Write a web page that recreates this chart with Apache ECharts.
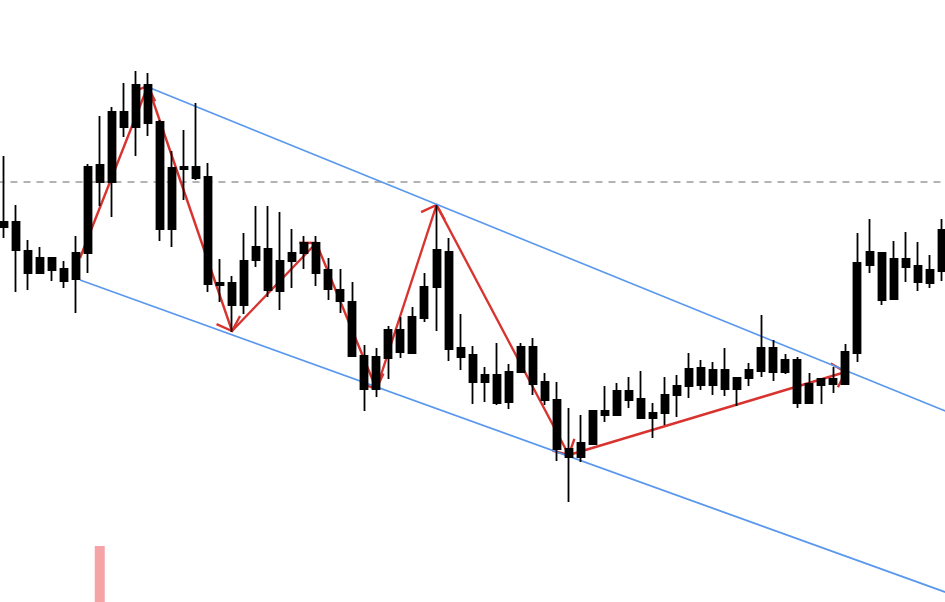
<!DOCTYPE html>
<html><head><meta charset="utf-8">
<script src="https://cdn.jsdelivr.net/npm/echarts@6/dist/echarts.min.js"></script>
<style>html,body{margin:0;padding:0;background:#fff}#c{width:945px;height:602px}</style>
</head><body><div id="c"></div>
<script>
const categories = Array.from({length: 79}, (_, i) => 'Bar ' + (i + 1));
const openP = [1.2778,1.2778,1.2749,1.2727,1.2742,1.2731,1.2721,1.2747,1.2818,1.2818,
1.2888,1.2873,1.2915,1.2878,1.2771,1.2833,1.2833,1.2823,1.2717,1.2717,
1.2695,1.2740,1.2751,1.2709,1.2739,1.2747,1.2757,1.2730,1.2710,1.2698,
1.2644,1.2611,1.2642,1.2670,1.2647,1.2682,1.2713,1.2748,1.2652,1.2645,
1.2618,1.2625,1.2598,1.2628,1.2653,1.2618,1.2600,1.2551,1.2543,1.2556,
1.2589,1.2585,1.2609,1.2601,1.2582,1.2587,1.2605,1.2614,1.2632,1.2615,
1.2630,1.2611,1.2622,1.2629,1.2652,1.2628,1.2640,1.2597,1.2615,1.2621,
1.2616,1.2647,1.2735,1.2747,1.2701,1.2741,1.2734,1.2717,1.2729];
const closeP = [1.2773,1.2750,1.2727,1.2742,1.2730,1.2719,1.2747,1.2833,1.2835,1.2888,
1.2873,1.2915,1.2877,1.2771,1.2832,1.2831,1.2822,1.2716,1.2715,1.2695,
1.2739,1.2753,1.2710,1.2739,1.2747,1.2757,1.2727,1.2711,1.2699,1.2644,
1.2611,1.2643,1.2670,1.2648,1.2683,1.2713,1.2750,1.2651,1.2643,1.2618,
1.2625,1.2597,1.2628,1.2653,1.2616,1.2600,1.2551,1.2543,1.2557,1.2589,
1.2585,1.2609,1.2600,1.2582,1.2587,1.2605,1.2614,1.2631,1.2615,1.2630,
1.2611,1.2622,1.2630,1.2652,1.2628,1.2640,1.2597,1.2616,1.2621,1.2616,
1.2648,1.2737,1.2748,1.2700,1.2741,1.2733,1.2718,1.2730,1.2770];
const lowP = [1.2762,1.2708,1.2710,1.2727,1.2719,1.2712,1.2687,1.2727,1.2794,1.2783,
1.2863,1.2844,1.2864,1.2759,1.2753,1.2800,1.2820,1.2708,1.2698,1.2668,
1.2686,1.2733,1.2703,1.2690,1.2712,1.2731,1.2714,1.2700,1.2687,1.2643,
1.2589,1.2603,1.2621,1.2642,1.2646,1.2678,1.2669,1.2639,1.2630,1.2596,
1.2598,1.2595,1.2591,1.2627,1.2605,1.2595,1.2539,1.2498,1.2538,1.2555,
1.2578,1.2585,1.2592,1.2582,1.2562,1.2575,1.2583,1.2602,1.2610,1.2605,
1.2604,1.2594,1.2614,1.2623,1.2619,1.2626,1.2592,1.2597,1.2596,1.2607,
1.2616,1.2638,1.2727,1.2695,1.2701,1.2718,1.2709,1.2712,1.2719];
const highP = [1.2844,1.2795,1.2760,1.2753,1.2743,1.2739,1.2764,1.2836,1.2884,1.2893,
1.2917,1.2929,1.2927,1.2880,1.2849,1.2870,1.2897,1.2837,1.2741,1.2724,
1.2767,1.2794,1.2794,1.2788,1.2771,1.2764,1.2764,1.2742,1.2731,1.2718,
1.2655,1.2652,1.2674,1.2683,1.2693,1.2727,1.2795,1.2762,1.2686,1.2654,
1.2633,1.2657,1.2636,1.2657,1.2662,1.2627,1.2618,1.2592,1.2585,1.2590,
1.2614,1.2617,1.2623,1.2629,1.2597,1.2623,1.2625,1.2647,1.2640,1.2638,
1.2652,1.2623,1.2637,1.2685,1.2660,1.2646,1.2643,1.2627,1.2622,1.2633,
1.2656,1.2767,1.2781,1.2747,1.2759,1.2768,1.2758,1.2745,1.2781];

// zigzag swing points (bar position, price)
const zigX = [6.36, 12, 19, 26, 31, 36, 47, 70];
const zigY = [1.2742, 1.2914, 1.2669, 1.2757, 1.2611, 1.2795, 1.2545, 1.2628];
// channel lines
const upperX = [12, 78.5];
const upperY = [1.2913, 1.2588];
const lowerX = [6.36, 78.5];
const lowerY = [1.2720, 1.2407];
// horizontal level
const levelY = 1.2818;
// single highlighted marker bar
const markerIndex = 8;
const markerValue = 9.3;

const RED = '#d8332f';
const BLUE = '#5a98ee';

const candleData = categories.map((_, i) => [openP[i], closeP[i], lowP[i], highP[i]]);
const segData = [];
for (let k = 0; k < zigX.length - 1; k++) {
  segData.push([zigX[k], zigY[k], zigX[k + 1], zigY[k + 1]]);
}
const markerData = categories.map((_, i) => i === markerIndex ? markerValue : null);

const chart = echarts.init(document.getElementById('c'));
chart.setOption({
  animation: false,
  backgroundColor: '#ffffff',
  grid: { left: -2.5, right: -2.7, top: 0, bottom: 0, containLabel: false, outerBoundsMode: 'none' },
  xAxis: [
    { type: 'category', data: categories, boundaryGap: true, show: false },
    { type: 'value', min: -0.5, max: 78.5, show: false }
  ],
  yAxis: [
    { type: 'value', min: 1.2398, max: 1.3000, show: false, scale: true },
    { type: 'value', min: 0, max: 100, show: false }
  ],
  series: [
    {
      type: 'line', xAxisIndex: 1, yAxisIndex: 0, z: 1,
      data: [[-0.5, levelY], [78.5, levelY]], symbol: 'none',
      lineStyle: { color: '#9a9a9a', width: 1.3, type: [7, 6] }
    },
    {
      type: 'line', xAxisIndex: 1, yAxisIndex: 0, z: 2,
      data: upperX.map((x, i) => [x, upperY[i]]), symbol: 'none',
      lineStyle: { color: BLUE, width: 1.7 }
    },
    {
      type: 'line', xAxisIndex: 1, yAxisIndex: 0, z: 2,
      data: lowerX.map((x, i) => [x, lowerY[i]]), symbol: 'none',
      lineStyle: { color: BLUE, width: 1.7 }
    },
    {
      type: 'custom', xAxisIndex: 1, yAxisIndex: 0, z: 2,
      data: segData,
      encode: { x: [0, 2], y: [1, 3] },
      renderItem: function (params, api) {
        const p1 = api.coord([api.value(0), api.value(1)]);
        const p2 = api.coord([api.value(2), api.value(3)]);
        const ang = Math.atan2(p2[1] - p1[1], p2[0] - p1[0]) + Math.PI;
        const L = 17, h = 47 * Math.PI / 180;
        const a1 = [p2[0] + L * Math.cos(ang + h), p2[1] + L * Math.sin(ang + h)];
        const a2 = [p2[0] + L * Math.cos(ang - h), p2[1] + L * Math.sin(ang - h)];
        const st = { stroke: RED, lineWidth: 2.4, fill: null };
        return {
          type: 'group',
          children: [
            { type: 'line', shape: { x1: p1[0], y1: p1[1], x2: p2[0], y2: p2[1] }, style: st },
            { type: 'polyline', shape: { points: [a1, p2, a2] }, style: st }
          ]
        };
      }
    },
    {
      type: 'candlestick', xAxisIndex: 0, yAxisIndex: 0, z: 3,
      data: candleData, barWidth: 7.5,
      itemStyle: { color: '#000', color0: '#000', borderColor: '#000', borderColor0: '#000', borderWidth: 1.8 }
    },
    {
      type: 'bar', xAxisIndex: 0, yAxisIndex: 1, z: 3,
      data: markerData, barWidth: 10,
      itemStyle: { color: '#f5a3a6' }
    }
  ]
});
</script></body></html>
